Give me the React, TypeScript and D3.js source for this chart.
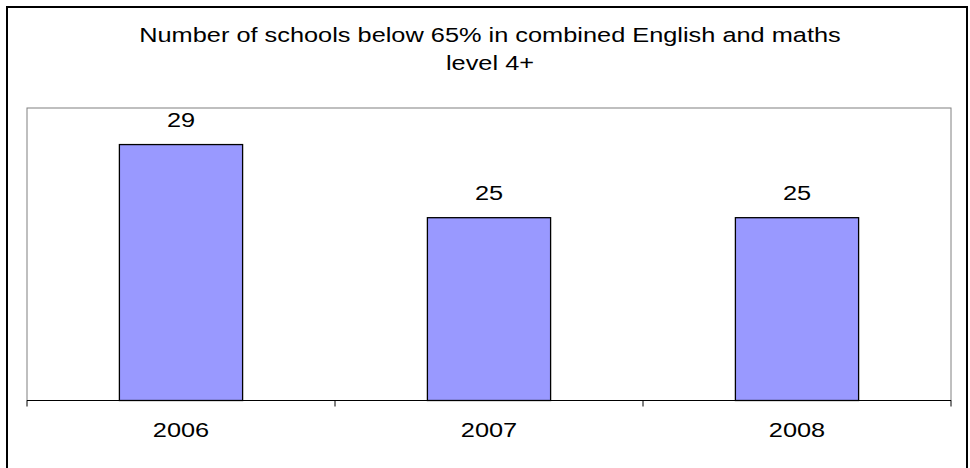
import React from "react";
import * as d3 from "d3";

const categories = ["2006", "2007", "2008"];
const values = [29, 25, 25];
const titleLines = ["Number of schools below 65% in combined English and maths", "level 4+"];

const W = 970;
const H = 468;
const plot = { left: 27, top: 108, right: 951, bottom: 400.5 };
const yDomain = [15, 31];
const font = "'Liberation Sans', Arial, sans-serif";
const FS = 19.5;
const SX = 1.3;

function Label({ x, y, children }: { x: number; y: number; children: React.ReactNode }) {
  return (
    <text
      transform={`translate(${x},${y}) scale(${SX},1)`}
      textAnchor="middle"
      fontSize={FS}
      fill="#000"
    >
      {children}
    </text>
  );
}

export default function App() {
  const x = d3
    .scaleBand<string>()
    .domain(categories)
    .range([plot.left, plot.right])
    .paddingInner(0.6)
    .paddingOuter(0.3);
  const xOuter = d3.scaleBand<string>().domain(categories).range([plot.left, plot.right]);
  const y = d3.scaleLinear().domain(yDomain).range([plot.bottom, plot.top]);

  const tickXs = [plot.left, ...categories.map((c) => (xOuter(c) as number) + xOuter.bandwidth())];

  return (
    <svg
      width={W}
      height={H}
      style={{ position: "absolute", left: 0, top: 0, display: "block" }}
      fontFamily={font}
    >
      <rect x={0} y={0} width={W} height={H} fill="#ffffff" />
      <rect x={7} y={7} width={960} height={462} fill="#ffffff" stroke="#000000" strokeWidth={2} />
      {titleLines.map((t, i) => (
        <Label key={i} x={490} y={41.5 + i * 28.5}>
          {t}
        </Label>
      ))}
      <rect
        x={plot.left}
        y={plot.top}
        width={plot.right - plot.left}
        height={plot.bottom - plot.top}
        fill="#ffffff"
        stroke="#808080"
        strokeWidth={1}
      />
      {categories.map((c, i) => {
        const bx = x(c) as number;
        const by = y(values[i]);
        return (
          <g key={c}>
            <rect
              x={bx}
              y={by}
              width={x.bandwidth()}
              height={plot.bottom - by}
              fill="#9999ff"
              stroke="#000000"
              strokeWidth={1.3}
            />
            <Label x={bx + x.bandwidth() / 2} y={by - 17.5}>
              {values[i]}
            </Label>
            <Label x={(xOuter(c) as number) + xOuter.bandwidth() / 2} y={437}>
              {c}
            </Label>
          </g>
        );
      })}
      <line x1={plot.left} x2={plot.right} y1={plot.bottom} y2={plot.bottom} stroke="#000" strokeWidth={1} />
      {tickXs.map((tx, i) => (
        <line key={i} x1={tx} x2={tx} y1={plot.bottom} y2={plot.bottom + 6} stroke="#000" strokeWidth={1} />
      ))}
    </svg>
  );
}
